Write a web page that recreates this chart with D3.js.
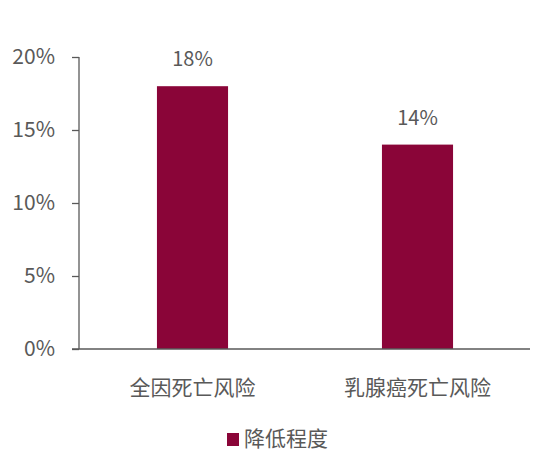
<!DOCTYPE html>
<html><head><meta charset="utf-8">
<script src="https://cdn.jsdelivr.net/npm/d3@7"></script>
<style>body{margin:0;background:#fff}svg{display:block}</style>
</head><body>
<script>
const categories = ["全因死亡风险", "乳腺癌死亡风险"];
const values = [18, 14];
const yTicks = [0, 5, 10, 15, 20];
const seriesName = "降低程度";

const W = 550, H = 472;
const font = "'Noto Sans CJK SC', 'Noto Sans', sans-serif";
const textColor = "#595959";
const barColor = "#8A0538";

const svg = d3.select("body").append("svg").attr("width", W).attr("height", H);

const y = d3.scaleLinear().domain([0, 20]).range([349, 57]);
const x = d3.scaleBand().domain(categories).range([80, 530]).paddingInner(0.684).paddingOuter(0.342);

// y axis
const yAxis = svg.append("g").attr("transform", "translate(79,0)")
  .call(d3.axisLeft(y).tickValues(yTicks).tickFormat(d => d + "%").tickSize(7).tickPadding(17));
yAxis.select(".domain").attr("stroke", textColor).attr("stroke-width", 1.3).attr("d", `M0,${y(0)}V${y(20)}`);
yAxis.selectAll(".tick line").attr("stroke", textColor).attr("stroke-width", 1.3);
yAxis.selectAll(".tick text").attr("fill", textColor).attr("font-family", font).attr("font-size", 21);

// bars
svg.selectAll("rect.bar").data(values).enter().append("rect")
  .attr("class", "bar")
  .attr("x", (d, i) => x(categories[i]))
  .attr("width", x.bandwidth())
  .attr("y", d => y(d))
  .attr("height", d => y(0) - y(d))
  .attr("fill", barColor);

// x axis
const xAxis = svg.append("g").attr("transform", `translate(0,${y(0)})`)
  .call(d3.axisBottom(x).tickSize(0).tickPadding(31));
xAxis.select(".domain").attr("stroke", textColor).attr("stroke-width", 1.3).attr("d", "M72,0H530");
xAxis.selectAll(".tick text").attr("fill", textColor).attr("font-family", font).attr("font-size", 21);

// value labels
svg.selectAll("text.val").data(values).enter().append("text")
  .attr("class", "val")
  .attr("x", (d, i) => x(categories[i]) + x.bandwidth() / 2)
  .attr("y", d => y(d) - 20)
  .attr("text-anchor", "middle")
  .attr("fill", textColor).attr("font-family", font).attr("font-size", 20)
  .text(d => d + "%");

// legend
const lg = svg.append("g").attr("transform", "translate(227,433)");
lg.append("rect").attr("width", 12).attr("height", 13).attr("fill", barColor);
lg.append("text").attr("x", 17).attr("y", 13).attr("fill", textColor)
  .attr("font-family", font).attr("font-size", 21).text(seriesName);
</script>
</body></html>
